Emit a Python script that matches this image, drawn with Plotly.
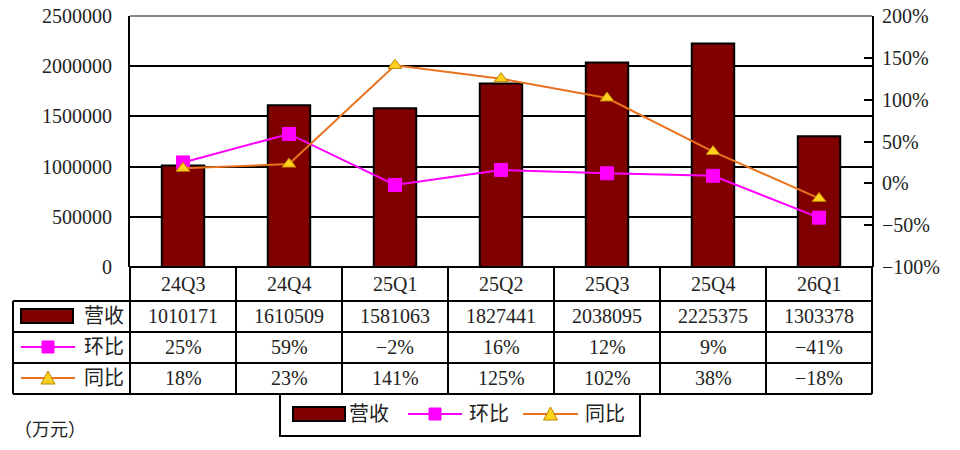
import plotly.graph_objects as go

categories = ["24Q3", "24Q4", "25Q1", "25Q2", "25Q3", "25Q4", "26Q1"]
revenue = [1010171, 1610509, 1581063, 1827441, 2038095, 2225375, 1303378]
qoq = [25, 59, -2, 16, 12, 9, -41]
yoy = [18, 23, 141, 125, 102, 38, -18]
left_ticks = [0, 500000, 1000000, 1500000, 2000000, 2500000]
right_ticks = [-100, -50, 0, 50, 100, 150, 200]

FONT = "Liberation Serif, Noto Sans CJK SC"
FS = 20
BAR = "#800000"
MAG = "#FF00FF"
ORG = "#E8731E"
YEL = "#FFD21F"

W, H = 960, 450
L, R, T, B = 130, 872, 16, 267


def px(x):
    return (x - L) / (R - L)


def py(y):
    return (B - y) / (B - T)


fig = go.Figure()
fig.add_trace(go.Bar(x=categories, y=revenue, name="营收", marker=dict(color=BAR, line=dict(color="black", width=2)), yaxis="y"))
fig.add_trace(go.Scatter(x=categories, y=qoq, name="环比", mode="lines+markers", line=dict(color=MAG, width=2),
                         marker=dict(symbol="square", size=13, color=MAG, line=dict(color=MAG, width=1)), yaxis="y2"))
fig.add_trace(go.Scatter(x=categories, y=yoy, name="同比", mode="lines+markers", line=dict(color=ORG, width=2),
                         marker=dict(symbol="triangle-up", size=12, color=YEL, line=dict(color="#C08000", width=1)), yaxis="y2"))

shapes = []
ann = []


def hline(y, x0, x1, color="black", w=2):
    shapes.append(dict(type="line", xref="paper", yref="paper", x0=px(x0), x1=px(x1), y0=py(y), y1=py(y),
                       line=dict(color=color, width=w), layer="above"))


def vline(x, y0, y1, color="black", w=2):
    shapes.append(dict(type="line", xref="paper", yref="paper", x0=px(x), x1=px(x), y0=py(y0), y1=py(y1),
                       line=dict(color=color, width=w), layer="above"))


def text(x, y, s, size=FS, xanchor="center", xref="paper"):
    ann.append(dict(x=x if xref != "paper" else px(x), y=py(y), xref=xref, yref="paper", text=s, showarrow=False,
                    xanchor=xanchor, yanchor="middle", font=dict(family=FONT, size=size, color="#222")))


def bar_key(x0, x1, yc):
    shapes.append(dict(type="rect", xref="paper", yref="paper", x0=px(x0), x1=px(x1), y0=py(yc - 7), y1=py(yc + 7),
                       fillcolor=BAR, line=dict(color="black", width=2), layer="above"))


def sq_key(x0, x1, yc):
    hline(yc, x0, x1, MAG, 2)
    xc = (x0 + x1) / 2
    shapes.append(dict(type="rect", xref="paper", yref="paper", x0=px(xc - 6), x1=px(xc + 6), y0=py(yc - 6), y1=py(yc + 6),
                       fillcolor=MAG, line=dict(color=MAG, width=1), layer="above"))


def tri_key(x0, x1, yc):
    hline(yc, x0, x1, ORG, 2)
    xc = (x0 + x1) / 2
    p = "M {} {} L {} {} L {} {} Z".format(px(xc - 7), py(yc + 6), px(xc + 7), py(yc + 6), px(xc), py(yc - 7))
    shapes.append(dict(type="path", xref="paper", yref="paper", path=p, fillcolor=YEL,
                       line=dict(color="#C08000", width=1), layer="above"))


# top border of plot (grey)
hline(T, L, R, "#888888", 2)

# table grid
rows = [267, 301, 332, 363, 394]
hline(267, L, R)
for y in rows[1:]:
    hline(y, 13, R)
vline(13, 301, 394)
ncat = len(categories)
for i in range(ncat + 1):
    vline(L + i * (R - L) / ncat, 267, 394)

# header & values
row_c = [284, 316, 347, 378]
for i, c in enumerate(categories):
    text(c, row_c[0], c, xref="x")
    text(c, row_c[1], str(revenue[i]), xref="x")
    text(c, row_c[2], "{}%".format(qoq[i]).replace("-", "−"), xref="x")
    text(c, row_c[3], "{}%".format(yoy[i]).replace("-", "−"), xref="x")

# key column
bar_key(21, 73, row_c[1])
text(104, row_c[1], "营收")
sq_key(21, 75, row_c[2])
text(104, row_c[2], "环比")
tri_key(21, 75, row_c[3])
text(104, row_c[3], "同比")

# legend box
shapes.append(dict(type="rect", xref="paper", yref="paper", x0=px(280), x1=px(640), y0=py(394), y1=py(436),
                   line=dict(color="black", width=2), layer="above"))
bar_key(293, 345, 414)
text(369, 414, "营收")
sq_key(408, 462, 414)
text(489, 414, "环比")
tri_key(523, 578, 414)
text(605, 414, "同比")

text(12, 430, "（万元）", size=18, xanchor="left")

fig.update_layout(
    width=W, height=H,
    margin=dict(l=L, r=W - R, t=T, b=H - B, autoexpand=False),
    paper_bgcolor="white", plot_bgcolor="white",
    showlegend=False,
    bargap=0.6,
    font=dict(family=FONT, size=FS, color="#222"),
    xaxis=dict(type="category", showticklabels=False, showgrid=False, ticks="", showline=False, zeroline=False,
               automargin=False),
    yaxis=dict(range=[0, 2500000], tickvals=left_ticks, ticktext=[str(v) for v in left_ticks], automargin=False,
               showgrid=True, gridcolor="black", gridwidth=2, showline=True, linecolor="black", linewidth=2,
               zeroline=False, ticks="", ticklabelstandoff=12, tickfont=dict(family=FONT, size=FS, color="#222")),
    yaxis2=dict(range=[-100, 200], tickvals=right_ticks, automargin=False,
                ticktext=[("{}%".format(v)).replace("-", "−") for v in right_ticks],
                overlaying="y", side="right", showgrid=False, zeroline=False,
                showline=True, linecolor="black", linewidth=2, ticks="inside", ticklen=8, tickwidth=2,
                tickcolor="black", ticklabelstandoff=4, tickfont=dict(family=FONT, size=FS, color="#222")),
    shapes=shapes,
    annotations=ann,
)

fig.write_html("out.html")
